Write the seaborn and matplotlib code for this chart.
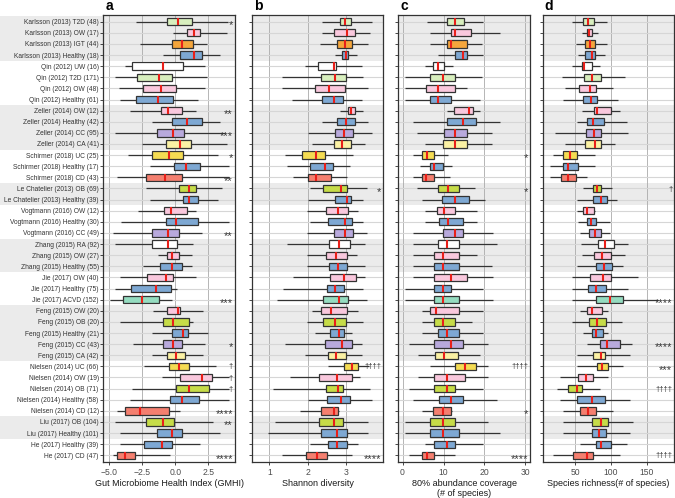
import numpy as np
import pandas as pd
import matplotlib
matplotlib.use("Agg")
import matplotlib.pyplot as plt
import seaborn as sns

labels = [
    "Karlsson (2013) T2D (48)", "Karlsson (2013) OW (17)", "Karlsson (2013) IGT (44)", "Karlsson (2013) Healthy (18)",
    "Qin (2012) UW (16)", "Qin (2012) T2D (171)", "Qin (2012) OW (48)", "Qin (2012) Healthy (61)",
    "Zeller (2014) OW (12)", "Zeller (2014) Healthy (42)", "Zeller (2014) CC (95)", "Zeller (2014) CA (41)",
    "Schirmer (2018) UC (25)", "Schirmer (2018) Healthy (17)", "Schirmer (2018) CD (43)",
    "Le Chatelier (2013) OB (69)", "Le Chatelier (2013) Healthy (39)",
    "Vogtmann (2016) OW (12)", "Vogtmann (2016) Healthy (30)", "Vogtmann (2016) CC (49)",
    "Zhang (2015) RA (92)", "Zhang (2015) OW (27)", "Zhang (2015) Healthy (55)",
    "Jie (2017) OW (40)", "Jie (2017) Healthy (75)", "Jie (2017) ACVD (152)",
    "Feng (2015) OW (20)", "Feng (2015) OB (20)", "Feng (2015) Healthy (21)", "Feng (2015) CC (43)", "Feng (2015) CA (42)",
    "Nielsen (2014) UC (66)", "Nielsen (2014) OW (19)", "Nielsen (2014) OB (71)", "Nielsen (2014) Healthy (58)", "Nielsen (2014) CD (12)",
    "Liu (2017) OB (104)", "Liu (2017) Healthy (101)",
    "He (2017) Healthy (39)", "He (2017) CD (47)",
]
groups = ["T2D", "OW", "IGT", "Healthy", "UW", "T2D", "OW", "Healthy", "OW", "Healthy", "CC", "CA",
          "UC", "Healthy", "CD", "OB", "Healthy", "OW", "Healthy", "CC", "RA", "OW", "Healthy",
          "OW", "Healthy", "ACVD", "OW", "OB", "Healthy", "CC", "CA", "UC", "OW", "OB", "Healthy", "CD",
          "OB", "Healthy", "Healthy", "CD"]

group_colors = {"T2D": "#d8efbe", "OW": "#f9c8dd", "IGT": "#f5a63c", "Healthy": "#7ea8d3",
                "UW": "#ffffff", "CC": "#b8a9dc", "CA": "#fbf1a4", "UC": "#f5dc52",
                "CD": "#f47f6f", "OB": "#c6dc48", "RA": "#ffffff", "ACVD": "#95dcc0"}

# panel a: GMHI
gmhi_lo = [-3.0, -0.2, -2.7, -0.9, -3.8, -4.57, -4.3, -4.2, -3.4, -1.8, -4.57, -2.5, -3.6, -1.9, -4.4, -2.2, -1.9, -2.8, -4.1, -4.7,
           -4.57, -1.3, -2.45, -4.2, -4.57, -4.95, -1.67, -4.2, -1.8, -3.2, -1.8, -2.4, -1.0, -3.3, -3.4, -4.4, -4.57, -4.2, -4.2, -4.74]
gmhi_q1 = [-0.65, 0.86, -0.27, 0.36, -3.26, -2.88, -2.47, -2.98, -1.06, -0.27, -1.36, -0.68, -1.8, -0.08, -2.24, 0.3, 0.6, -0.83, -0.73, -1.8,
           -1.8, -0.65, -1.16, -2.12, -3.38, -3.94, -0.65, -0.91, -0.27, -0.96, -0.65, -0.45, 0.36, 0.05, -0.4, -3.8, -2.2, -1.36, -2.35, -4.39]
gmhi_med = [0.18, 1.44, 0.48, 1.42, -0.95, -1.21, -1.1, -1.29, -0.58, 0.86, -0.2, 0.36, -0.45, 0.79, -0.78, 1.04, 1.06, -0.35, 0.03, -0.58,
            -0.58, -0.27, -0.27, -0.73, -1.48, -2.5, 0.23, -0.2, 0.6, -0.2, 0.05, 0.28, 2.0, 1.06, 0.48, -2.67, -0.95, -0.27, -1.03, -3.8]
gmhi_q3 = [1.24, 1.87, 1.36, 2.05, 0.6, -0.23, 0.03, -0.15, 0.48, 2.0, 0.66, 1.21, 0.6, 1.87, 0.48, 1.57, 1.7, 0.86, 1.7, 0.3,
           0.15, 0.28, 0.48, -0.2, -0.3, -1.21, 0.36, 1.06, 0.98, 0.48, 0.74, 1.06, 2.8, 2.58, 1.8, -0.45, -0.1, 0.48, -0.27, -3.05]
gmhi_hi = [4.0, 3.9, 2.4, 3.4, 2.25, 2.4, 2.25, 1.74, 1.6, 3.4, 3.75, 3.9, 3.2, 4.1, 4.1, 3.5, 3.2, 1.6, 4.1, 2.0,
           1.34, 1.24, 1.24, 1.6, 0.1, -0.27, 2.12, 1.36, 2.5, 2.25, 2.12, 3.1, 4.1, 4.1, 4.1, 0.36, 2.88, 3.4, 1.87, -0.4]
gmhi_marks = {0: "*", 8: "**", 10: "***", 12: "*", 14: "**", 19: "**", 25: "***", 29: "*",
              31: "\u2020", 32: "\u2020", 33: "\u2020", 35: "****", 36: "**", 39: "****"}

# panel b: Shannon diversity
shan_lo = [2.37, 2.37, 2.33, 2.72, 1.93, 1.32, 1.32, 1.59, 2.85, 2.37, 2.02, 2.11, 1.41, 1.46, 1.63, 2.07, 2.02, 1.98, 2.07, 1.98,
           1.46, 1.98, 1.98, 1.63, 1.36, 1.19, 2.11, 1.98, 2.2, 1.41, 1.93, 2.54, 1.54, 1.1, 2.02, 1.8, 1.15, 0.97, 2.07, 1.32]
shan_q1 = [2.85, 2.68, 2.78, 2.91, 2.28, 2.35, 2.2, 2.39, 3.05, 2.76, 2.72, 2.69, 1.85, 2.07, 2.02, 2.41, 2.72, 2.48, 2.54, 2.7,
           2.57, 2.48, 2.57, 2.59, 2.5, 2.41, 2.35, 2.41, 2.6, 2.46, 2.53, 2.96, 2.31, 2.48, 2.5, 2.35, 2.31, 2.35, 2.54, 1.96]
shan_med = [2.98, 3.03, 2.98, 3.0, 2.68, 2.72, 2.57, 2.68, 3.14, 3.01, 2.96, 2.91, 2.21, 2.46, 2.21, 2.87, 3.03, 2.81, 2.98, 2.98,
            2.83, 2.75, 2.81, 2.96, 2.73, 2.82, 2.61, 2.72, 2.83, 2.9, 2.75, 3.16, 2.76, 2.81, 2.88, 2.68, 2.68, 2.76, 2.76, 2.24]
shan_q3 = [3.13, 3.23, 3.17, 3.07, 2.75, 3.01, 2.98, 2.94, 3.24, 3.24, 3.2, 3.13, 2.46, 2.66, 2.62, 3.04, 3.13, 3.07, 3.16, 3.2,
           3.11, 3.03, 3.04, 3.27, 2.96, 3.05, 3.03, 3.0, 2.96, 3.16, 3.01, 3.33, 3.16, 2.94, 3.12, 2.79, 2.94, 3.04, 3.04, 2.5]
shan_hi = [3.68, 3.64, 3.59, 3.29, 3.42, 3.46, 3.59, 3.42, 3.46, 3.59, 3.68, 3.5, 3.2, 3.11, 3.03, 3.55, 3.46, 3.33, 3.46, 3.55,
           3.5, 3.29, 3.5, 3.5, 3.46, 3.55, 3.33, 3.46, 3.16, 3.42, 3.42, 3.6, 3.37, 3.64, 3.68, 2.82, 3.59, 3.59, 3.33, 3.16]
shan_marks = {15: "*", 31: "\u2020\u2020\u2020\u2020", 39: "****"}

# panel c: 80% abundance coverage
cov_lo = [5.9, 6.7, 6.7, 8.7, 5.5, 0.6, 0.6, 0.6, 10.8, 2.6, 3.5, 5.5, 2.6, 4.3, 2.6, 3.5, 4.7, 5.5, 5.5, 2.6,
          2.6, 2.6, 2.6, 2.6, 0.6, 0.6, 4.7, 4.7, 4.7, 1.7, 3.7, 6.7, 3.7, 1.7, 2.6, 4.7, 0.6, 0.6, 5.5, 1.7]
cov_q1 = [10.8, 11.8, 10.8, 12.8, 7.5, 6.7, 5.7, 6.7, 12.6, 10.8, 10.1, 9.8, 4.7, 6.7, 4.7, 8.7, 9.7, 8.5, 9.0, 9.8,
          8.7, 7.8, 7.8, 7.8, 7.8, 7.8, 6.7, 7.8, 8.7, 7.8, 7.9, 12.8, 7.8, 7.8, 9.0, 7.5, 6.7, 6.7, 7.8, 4.8]
cov_med = [12.8, 12.8, 11.8, 14.8, 8.7, 9.8, 8.7, 8.7, 16.2, 14.7, 12.8, 12.8, 5.9, 7.8, 5.7, 11.0, 12.8, 10.2, 11.2, 12.8,
           10.8, 9.8, 9.8, 11.8, 9.8, 9.8, 8.2, 9.8, 10.8, 11.8, 10.2, 15.2, 10.8, 10.8, 11.8, 9.8, 9.8, 9.8, 10.8, 5.9]
cov_q3 = [15.0, 16.7, 15.8, 15.8, 10.1, 12.8, 12.8, 11.8, 17.1, 17.9, 15.8, 15.8, 7.8, 9.8, 7.8, 13.8, 16.3, 12.8, 14.8, 14.8,
          13.8, 13.8, 13.8, 15.8, 11.8, 13.8, 13.8, 12.8, 13.8, 14.8, 13.6, 17.9, 15.2, 12.8, 14.7, 11.8, 12.8, 13.8, 12.8, 7.8]
cov_hi = [19.7, 23.8, 19.3, 19.7, 12.4, 19.3, 15.7, 18.9, 18.9, 23.8, 21.8, 21.8, 11.2, 12.0, 11.6, 17.7, 20.1, 18.1, 18.1, 22.1,
          23.0, 18.1, 21.8, 22.1, 19.7, 22.1, 19.7, 16.9, 19.7, 20.9, 18.9, 20.9, 20.9, 19.7, 23.0, 12.0, 20.9, 23.8, 19.7, 12.8]
cov_marks = {12: "*", 15: "*", 31: "\u2020\u2020\u2020\u2020", 35: "*", 39: "****"}

# panel d: species richness
rich_lo = [45.4, 59.4, 52, 54.6, 45.4, 31.4, 36, 33.7, 59.4, 52.3, 22, 36, 19.7, 15, 15, 61.6, 52.3, 52.3, 53.8, 57,
           58, 59.4, 52.3, 45.4, 45.4, 45.4, 57, 45.4, 61.6, 66.3, 52.3, 52.3, 29.1, 24.4, 29.1, 33.7, 33.7, 33.7, 57, 19.7]
rich_q1 = [60.7, 66.3, 64, 64, 59.4, 63, 55.6, 60.7, 76.5, 67.2, 65.4, 64, 32.8, 33.7, 30.4, 74.7, 75.6, 60.7, 66.3, 70,
           81.7, 77, 79.7, 71, 68.6, 79.3, 67.2, 70, 73.3, 85, 75.6, 80.3, 53.8, 39.8, 52.3, 57, 74.2, 74.2, 78.9, 46.8]
rich_med = [68.6, 70, 71, 73, 62.6, 73, 71, 72, 80.3, 75.6, 76.5, 78, 43, 40.6, 40.6, 80.3, 85.9, 66.3, 72.3, 78,
            92, 87.3, 90.5, 88.7, 79.3, 98.9, 73.3, 81.1, 79.3, 94.3, 85.9, 87.3, 65.4, 52.3, 73.3, 68.6, 85.9, 83.5, 86.3, 66.3]
rich_q3 = [76.5, 73.3, 78, 78, 73.3, 85.9, 78.9, 80.3, 99.9, 90.5, 85.9, 86.3, 53.2, 54.6, 51.4, 85.9, 94.3, 77, 79.3, 86,
           104.9, 100.3, 101.3, 99.9, 92.9, 117.5, 87.3, 92.9, 89.5, 112.8, 92, 96.6, 74.7, 59.4, 92, 78.9, 96.6, 93.3, 99.9, 74.7]
rich_hi = [94.3, 82.5, 94, 92, 85, 119.8, 103.5, 110.5, 112.8, 122, 124.5, 105.9, 78, 78, 66.3, 101.3, 108.2, 78, 98.9, 98.9,
           124.4, 119.8, 117.5, 138.4, 124.4, 166.3, 96.6, 115.2, 96.6, 129, 126.8, 117.5, 96.6, 85, 126.8, 103.5, 131.4, 126.8, 122, 112.8]
rich_marks = {15: "\u2020", 25: "****", 29: "****", 31: "***", 33: "\u2020\u2020\u2020\u2020", 39: "\u2020\u2020\u2020\u2020"}

panels = [
    ("a", (gmhi_lo, gmhi_q1, gmhi_med, gmhi_q3, gmhi_hi), gmhi_marks, (-5.44, 4.52), [-5, -2.5, 0, 2.5],
     ["\u22125.0", "\u22122.5", "0.0", "2.5"], "Gut Microbiome Health Index (GMHI)", 103.5),
    ("b", (shan_lo, shan_q1, shan_med, shan_q3, shan_hi), shan_marks, (0.54, 3.98), [1, 2, 3],
     ["1", "2", "3"], "Shannon diversity", 251.7),
    ("c", (cov_lo, cov_q1, cov_med, cov_q3, cov_hi), cov_marks, (-0.98, 31.1), [0, 10, 20, 30],
     ["0", "10", "20", "30"], "80% abundance coverage\n(# of species)", 398.5),
    ("d", (rich_lo, rich_q1, rich_med, rich_q3, rich_hi), rich_marks, (4.9, 188.3), [50, 100, 150],
     ["50", "100", "150"], "Species richness(# of species)", 542.7),
]

plt.rcParams["font.family"] = ["Liberation Sans", "DejaVu Sans"]

W, H = 675, 498
fig = plt.figure(figsize=(W / 100, H / 100), dpi=100)

studies = [l.split(" (")[0] for l in labels]
band = []
k = 0
for i, s in enumerate(studies):
    if i > 0 and s != studies[i - 1]:
        k += 1
    band.append(k % 2 == 0)

palette = {l: group_colors[g] for l, g in zip(labels, groups)}
ax_w = 131.5
for letter, stats, marks, xlim, ticks, ticklabels, xlabel, left_px in panels:
    ax = fig.add_axes([left_px / W, (H - 462) / H, ax_w / W, 447 / H])
    rows = []
    for i, lab in enumerate(labels):
        for s in stats:
            rows.append({"label": lab, "value": s[i]})
    df = pd.DataFrame(rows)

    for i, grey in enumerate(band):
        if grey:
            ax.axhspan(i - 0.5, i + 0.5, color="#ebebeb", zorder=0, lw=0)
            if letter == "a":
                lab_span = ax.axhspan(i - 0.5, i + 0.5, xmin=-left_px / ax_w, xmax=0,
                                      color="#ebebeb", zorder=0, lw=0)
                lab_span.set_clip_on(False)

    sns.boxplot(data=df, x="value", y="label", hue="label", order=labels, hue_order=labels,
                palette=palette, legend=False, whis=(0, 100), width=0.66, showcaps=False,
                saturation=1, linewidth=0.9, linecolor="#333333", dodge=False, ax=ax)
    # red median line
    for cont in ax.containers:
        for m in getattr(cont, "medians", []):
            m.set_color("#e8201a")
            m.set_linewidth(1.5)
            m.set_zorder(5)

    for i, txt in marks.items():
        if "*" in txt:
            ax.text(0.985, i + 0.3, txt, transform=ax.get_yaxis_transform(), ha="right", va="center",
                    fontsize=8, color="#333333")
        else:
            ax.text(0.985, i + 0.05, txt, transform=ax.get_yaxis_transform(), ha="right", va="center",
                    fontsize=5.5, color="#333333")

    ax.set_xlim(*xlim)
    ax.set_ylim(39.6, -0.6)
    ax.set_xticks(ticks)
    ax.set_xticklabels(ticklabels)
    ax.set_axisbelow(True)
    ax.grid(axis="x", color="#aaaaaa", lw=0.6)
    ax.grid(axis="y", color="#d6d6d6", lw=0.8)
    ax.set_ylabel("")
    ax.set_xlabel(xlabel, fontsize=6.5, color="#1a1a1a", labelpad=2, linespacing=1.1)
    ax.tick_params(axis="x", length=2, width=0.5, labelsize=6.2, labelcolor="#4d4d4d", pad=2)
    ax.tick_params(axis="y", length=2, width=0.5, labelsize=4.8, labelcolor="#333333", pad=1.5)
    if letter != "a":
        ax.set_yticklabels([])
    for sp in ax.spines.values():
        sp.set_color("#333333")
        sp.set_linewidth(0.9)
    fig.text((left_px + 2) / W, 1 - 6 / H, letter, fontsize=10, fontweight="bold", ha="left", va="center")

fig.savefig("out.png", dpi=100)
